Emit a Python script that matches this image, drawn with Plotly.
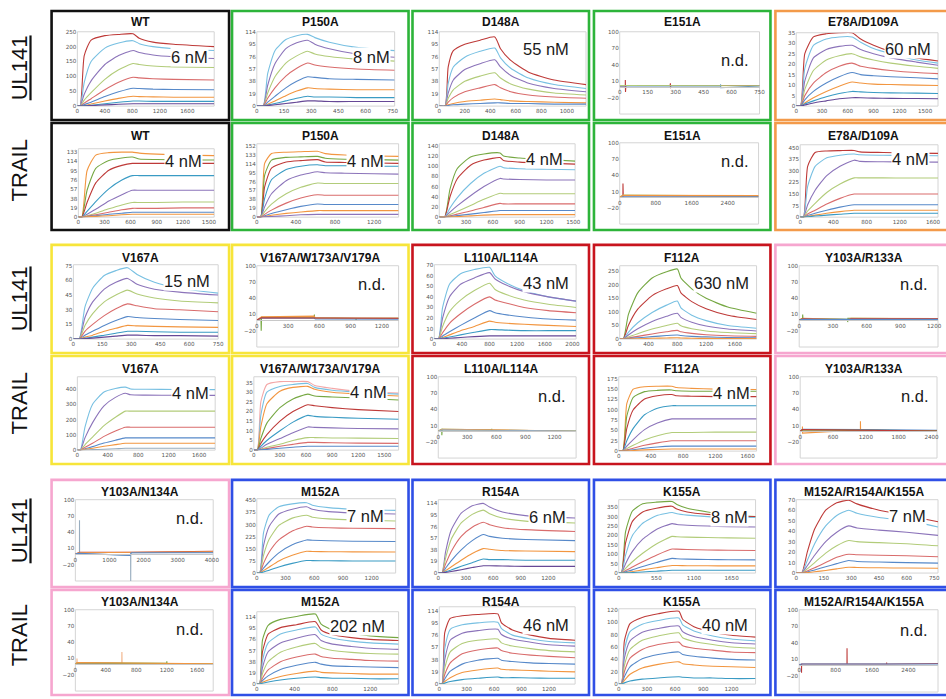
import plotly.graph_objects as go

W, H = 946, 699

# ====================== DATA ======================
ROW_LABELS = ["UL141", "TRAIL", "UL141", "TRAIL", "UL141", "TRAIL"]
TITLES = [
    ["WT", "P150A", "D148A", "E151A", "E78A/D109A"],
    ["WT", "P150A", "D148A", "E151A", "E78A/D109A"],
    ["V167A", "V167A/W173A/V179A", "L110A/L114A", "F112A", "Y103A/R133A"],
    ["V167A", "V167A/W173A/V179A", "L110A/L114A", "F112A", "Y103A/R133A"],
    ["Y103A/N134A", "M152A", "R154A", "K155A", "M152A/R154A/K155A"],
    ["Y103A/N134A", "M152A", "R154A", "K155A", "M152A/R154A/K155A"],
]
KD_LABELS = [
    ["6 nM", "8 nM", "55 nM", "n.d.", "60 nM"],
    ["4 nM", "4 nM", "4 nM", "n.d.", "4 nM"],
    ["15 nM", "n.d.", "43 nM", "630 nM", "n.d."],
    ["4 nM", "4 nM", "n.d.", "4 nM", "n.d."],
    ["n.d.", "7 nM", "6 nM", "8 nM", "7 nM"],
    ["n.d.", "202 nM", "46 nM", "40 nM", "n.d."],
]
ND_YTICKS = [-20, 10, 40, 70, 100]

# ---- Row 1 : UL141 ----
UL141_WT_T = [0, 40, 100, 200, 400, 600, 810, 900, 1100, 1400, 1990]
UL141_WT_Y = [
    [0, 0, 170, 222, 237, 241, 243, 228, 215, 208, 200],
    [0, 0, 80, 150, 195, 212, 220, 210, 200, 193, 187],
    [0, 0, 40, 85, 140, 170, 187, 180, 172, 166, 160],
    [0, 0, 20, 45, 90, 122, 143, 140, 135, 132, 130],
    [0, 0, 10, 25, 55, 80, 97, 95, 92, 90, 88],
    [0, 0, 5, 13, 32, 48, 60, 59, 57, 56, 55],
    [0, 0, 2, 7, 17, 26, 33, 32, 31, 30, 30],
    [0, 0, 1, 3, 8, 13, 17, 17, 16, 16, 16],
    [0, 0, 0.5, 1.5, 4, 6, 8, 8, 8, 8, 8],
]
UL141_P150A_T = [0, 35, 60, 100, 160, 220, 280, 320, 400, 550, 760]
UL141_P150A_Y = [
    [0, 0, 50, 85, 102, 108, 110, 105, 98, 90, 85],
    [0, 0, 32, 65, 88, 97, 101, 95, 88, 80, 75],
    [0, 0, 20, 45, 66, 77, 84, 80, 76, 72, 69],
    [0, 0, 12, 28, 46, 58, 66, 63, 60, 57, 55],
    [0, 0, 6, 15, 28, 38, 45, 44, 42, 41, 40],
    [0, 0, 3, 8, 16, 23, 28, 27, 26, 25, 25],
    [0, 0, 1.5, 4, 8, 12, 15, 14, 14, 13, 13],
    [0, 0, 1, 2, 4, 6, 8, 8, 7, 7, 7],
]
UL141_D148A_T = [0, 45, 70, 110, 200, 320, 435, 480, 560, 700, 900, 1150]
UL141_D148A_Y = [
    [0, 0, 60, 85, 95, 101, 106, 88, 70, 52, 40, 33],
    [0, 0, 35, 60, 75, 84, 89, 74, 58, 43, 33, 27],
    [0, 0, 20, 40, 56, 65, 71, 60, 47, 35, 27, 22],
    [0, 0, 12, 25, 38, 46, 51, 43, 34, 26, 20, 17],
    [0, 0, 6, 13, 22, 28, 33, 28, 22, 17, 14, 12],
    [0, 0, 2, 4, 7, 9, 11, 10, 8, 7, 6, 5],
    [0, 0, 1, 2, 3, 4, 5, 5, 4, 4, 3, 3],
]
UL141_E151A_ND = [
    ([0, 28, 30, 30, 31, 33, 270, 272, 272, 274, 750], [1, 1, 1, 12, -10, 2, 2, 6, -3, 2, 2]),
    ([0, 33, 540, 541, 542, 750], [1, 1, 1, 4, -2, 1]),
    ([0, 33, 750], [2, 2, 1.5]),
]
UL141_E78A_T = [0, 50, 100, 200, 350, 500, 650, 750, 900, 1100, 1400, 1650]
UL141_E78A_Y = [
    [0, 0, 25, 33, 34.5, 35, 35, 32, 29, 26, 23, 21.5],
    [0, 0, 18, 29, 32, 33, 33, 30.5, 27.5, 25, 22, 20.5],
    [0, 0, 12, 23, 27, 28.5, 29, 27, 25, 23, 21, 19.5],
    [0, 0, 8, 17, 22, 24, 25, 23.5, 22, 20.5, 19, 18],
    [0, 0, 5, 11, 16, 19, 20.5, 19, 18, 17, 16, 15.5],
    [0, 0, 3, 7, 11, 14, 16, 15, 14.5, 14, 13.5, 13],
    [0, 0, 1.5, 4, 7, 9.5, 11.5, 11, 10.5, 10.3, 10, 9.8],
    [0, 0, 1, 2.5, 4.5, 6, 7, 6.8, 6.5, 6.3, 6.2, 6],
    [0, 0, 0.5, 1.5, 2.5, 3.5, 4, 4, 3.8, 3.7, 3.6, 3.5],
]

# ---- Row 2 : TRAIL ----
TRAIL_WT_T = [0, 40, 100, 200, 350, 500, 620, 700, 900, 1200, 1560]
TRAIL_WT_Y = [
    [0, 0, 95, 127, 132, 133, 133, 131, 129, 127, 126],
    [0, 0, 55, 100, 116, 121, 123, 119, 118, 117, 117],
    [0, 0, 30, 70, 96, 106, 110, 110, 110, 110, 110],
    [0, 0, 12, 32, 58, 76, 85, 85, 85, 85, 85],
    [0, 0, 6, 16, 33, 46, 55, 55, 55, 55, 55],
    [0, 0, 3, 8, 17, 25, 30, 30, 30, 31, 31],
    [0, 0, 2, 5, 10, 15, 18, 18, 18, 19, 19],
    [0, 0, 1, 3, 6, 8, 10, 10, 10, 10, 10],
    [0, 0, 0.5, 1.5, 3, 5, 6, 6, 6, 6, 6],
]
TRAIL_P150A_T = [0, 40, 80, 150, 300, 450, 620, 700, 900, 1200, 1450]
TRAIL_P150A_Y = [
    [0, 0, 115, 136, 139, 140, 141, 136, 133, 131, 130],
    [0, 0, 90, 122, 128, 129, 130, 126, 124, 123, 122],
    [0, 0, 65, 105, 118, 121, 123, 118, 117, 116, 115],
    [0, 0, 40, 80, 102, 109, 112, 110, 110, 109, 109],
    [0, 0, 22, 50, 78, 90, 97, 95, 94, 93, 92],
    [0, 0, 12, 28, 50, 64, 73, 72, 72, 72, 72],
    [0, 0, 6, 15, 30, 41, 48, 47, 47, 47, 47],
    [0, 0, 3, 8, 16, 23, 28, 27, 27, 27, 27],
    [0, 0, 1.5, 4, 8, 11, 14, 14, 14, 14, 14],
    [0, 0, 0.5, 1.5, 3, 5, 6, 6, 6, 6, 6],
]
TRAIL_D148A_T = [0, 60, 120, 200, 350, 500, 680, 720, 900, 1200, 1520]
TRAIL_D148A_Y = [
    [0, 0, 55, 95, 118, 124, 126, 120, 116, 113, 110],
    [0, 0, 40, 75, 102, 112, 117, 111, 108, 106, 104],
    [0, 0, 18, 38, 66, 86, 100, 97, 95, 94, 93],
    [0, 0, 10, 22, 42, 60, 76, 75, 74, 73, 73],
    [0, 0, 5, 11, 23, 35, 47, 46, 46, 46, 46],
    [0, 0, 2.5, 6, 12, 19, 27, 26, 26, 26, 26],
    [0, 0, 1, 3, 6, 9, 13, 13, 13, 13, 13],
    [0, 0, 0.5, 1, 2.5, 4, 5, 5, 5, 5, 5],
]
TRAIL_E151A_ND = [
    ([0, 70, 72, 78, 800, 1600, 3085], [0, 0, 25, 3, 2.5, 2, 1.5]),
    ([0, 80, 1600, 3085], [0, 3.5, 2.5, 2]),
    ([0, 80, 1600, 3085], [0, 2, 1.5, 1]),
    ([0, 80, 3085], [0, 3, 2.5]),
]
TRAIL_E78A_T = [0, 40, 90, 180, 320, 480, 650, 720, 1000, 1300, 1660]
TRAIL_E78A_Y = [
    [0, 0, 330, 420, 430, 432, 433, 424, 420, 416, 414],
    [0, 0, 200, 330, 385, 402, 410, 405, 402, 400, 399],
    [0, 0, 80, 175, 270, 330, 370, 362, 360, 358, 357],
    [0, 0, 40, 90, 160, 215, 255, 255, 255, 254, 254],
    [0, 0, 20, 45, 85, 122, 150, 150, 150, 150, 150],
    [0, 0, 10, 25, 45, 65, 80, 80, 80, 80, 80],
    [0, 0, 6, 13, 25, 36, 45, 45, 45, 45, 45],
    [0, 0, 3, 7, 13, 19, 25, 25, 25, 25, 25],
]

# ---- Row 3 : UL141 ----
UL141_V167A_T = [0, 30, 60, 100, 160, 220, 280, 330, 420, 550, 750]
UL141_V167A_Y = [
    [0, 0, 33, 52, 65, 70, 73, 66, 58, 52, 47],
    [0, 0, 22, 38, 51, 58, 62, 56, 51, 48, 45],
    [0, 0, 14, 26, 38, 45, 50, 46, 42, 39, 37],
    [0, 0, 8, 15, 24, 31, 36, 34, 31, 30, 28],
    [0, 0, 4, 8, 14, 19, 23, 22, 21, 20, 19],
    [0, 0, 2, 4, 8, 11, 14, 13.5, 13, 12.5, 12],
    [0, 0, 1, 2, 4, 6, 8, 8, 7.5, 7, 7],
    [0, 0, 0.5, 1, 2, 3, 4, 4, 3.5, 3.5, 3],
]
UL141_VWV_ND = [
    ([0, 40, 42, 45, 550, 552, 554, 950, 952, 954, 1360], [0, 0, -20, 5, 5, 10, 4, 3, -2, 3, 3]),
    ([0, 45, 550, 560, 1360], [0, 6, 7, 3, 3]),
    ([0, 45, 550, 560, 1360], [0, 3, 3, 2, 1.5]),
    ([0, 45, 1360], [0, 4, 3]),
]
UL141_L110A_T = [0, 60, 120, 220, 380, 580, 800, 880, 1050, 1300, 1650, 2053]
UL141_L110A_Y = [
    [0, 0, 30, 52, 62, 66, 68, 60, 53, 46, 40, 36],
    [0, 0, 20, 40, 52, 58, 63, 57, 51, 45, 40, 36],
    [0, 0, 12, 26, 37, 46, 53, 47, 42, 37, 33, 30],
    [0, 0, 6, 15, 24, 33, 40, 37, 34, 30, 27, 25],
    [0, 0, 3, 7, 13, 20, 27, 25, 23, 21, 19, 18],
    [0, 0, 1.5, 4, 8, 12, 17, 16, 15, 14, 13, 12],
    [0, 0, 1, 2, 4, 6.5, 9, 9, 8.5, 8, 8, 8],
    [0, 0, 0.3, 0.8, 1.5, 2.3, 3, 3, 3, 3, 3, 3],
]
UL141_F112A_T = [0, 50, 120, 250, 450, 650, 800, 850, 1000, 1200, 1500, 1900]
UL141_F112A_Y = [
    [0, 0, 90, 170, 225, 248, 258, 225, 185, 150, 118, 95],
    [0, 0, 50, 110, 160, 185, 197, 170, 138, 112, 88, 72],
    [0, 0, 25, 60, 98, 125, 140, 115, 88, 68, 50, 40],
    [0, 0, 15, 38, 65, 84, 95, 80, 62, 48, 37, 30],
    [0, 0, 8, 20, 37, 50, 58, 49, 38, 30, 24, 20],
    [0, 0, 4, 10, 19, 27, 32, 27, 21, 16, 12, 10],
    [0, 0, 2, 5, 9, 13, 15, 13, 10, 8, 6, 5],
    [0, 0, 0.5, 1.5, 3, 4, 5, 4, 3, 2.5, 2, 2],
]
UL141_Y103R133_ND = [
    ([0, 30, 31, 33, 430, 431, 433, 1234], [0, 3, 10, 3, 1, -4, 3, 2]),
    ([0, 33, 300, 430, 460, 1234], [0, 3, 1.5, 0.5, 3, 2.5]),
    ([0, 33, 430, 460, 1234], [0, 2, 0, 2, 2]),
    ([0, 33, 1234], [0, 1, 1]),
]

# ---- Row 4 : TRAIL ----
TRAIL_V167A_T = [0, 40, 100, 200, 350, 500, 630, 700, 900, 1300, 1810]
TRAIL_V167A_Y = [
    [0, 0, 150, 300, 380, 403, 412, 400, 398, 397, 396],
    [0, 0, 80, 180, 290, 345, 372, 362, 360, 359, 358],
    [0, 0, 35, 85, 160, 215, 255, 255, 255, 255, 255],
    [0, 0, 18, 45, 90, 125, 150, 150, 150, 150, 150],
    [0, 0, 9, 23, 46, 65, 80, 80, 80, 80, 80],
    [0, 0, 5, 12, 25, 36, 45, 45, 45, 45, 45],
    [0, 0, 1, 3, 6, 9, 12, 12, 12, 12, 12],
]
TRAIL_VWV_T = [0, 40, 80, 150, 300, 450, 620, 700, 900, 1200, 1665]
TRAIL_VWV_Y = [
    [0, 0, 25, 34, 35.5, 35.5, 35.5, 33.5, 32, 30.5, 29.5],
    [0, 0, 18, 30, 33, 34, 34.5, 32.5, 31, 30, 29],
    [0, 0, 12, 24, 30.5, 32.5, 33, 31.5, 30, 29, 28],
    [0, 0, 6, 14, 22, 26.5, 29, 28, 27.5, 27, 26],
    [0, 0, 3.5, 8, 15, 20, 23.5, 23, 22, 21, 20],
    [0, 0, 2, 5, 10, 14.5, 18, 17.5, 17, 16.5, 16],
    [0, 0, 1, 3, 6, 9, 12, 11.8, 11.5, 11.2, 11],
    [0, 0, 0.5, 1.5, 3, 5, 6.5, 6.5, 6.3, 6.2, 6],
    [0, 0, 0.3, 0.8, 2, 3, 4, 4, 3.8, 3.6, 3.5],
    [0, 0, 0.2, 0.4, 1, 1.5, 2, 2, 2, 2, 2],
]
TRAIL_L110A_ND = [
    ([0, 35, 37, 40, 550, 552, 554, 1423], [0, 3, -8, 3, 2, 4, 1.5, 0]),
    ([0, 40, 600, 1423], [0, 3, 2, -0.5]),
    ([0, 40, 1423], [0, 2, 0]),
]
TRAIL_F112A_T = [0, 50, 100, 180, 320, 480, 660, 720, 900, 1200, 1711]
TRAIL_F112A_Y = [
    [0, 0, 115, 150, 156, 157, 157, 154, 152, 150, 149],
    [0, 0, 85, 130, 144, 147, 148, 146, 145, 145, 145],
    [0, 0, 55, 100, 126, 134, 137, 134, 133, 132, 132],
    [0, 0, 25, 55, 88, 104, 110, 110, 110, 110, 110],
    [0, 0, 12, 28, 52, 68, 78, 78, 78, 78, 78],
    [0, 0, 6, 14, 27, 37, 45, 45, 45, 46, 46],
    [0, 0, 3, 7, 14, 20, 25, 25, 25, 25, 25],
    [0, 0, 1.5, 3.5, 7, 10, 12, 12, 12, 12, 12],
    [0, 0, 0.5, 1.5, 3, 4, 5, 5, 5, 5, 5],
]
TRAIL_Y103R133_ND = [
    ([0, 40, 41, 43, 1100, 1101, 1103, 2500], [0, 3, 8, -4, 2, 18, 2, 0]),
    ([0, 45, 1200, 2500], [0, 3, 2.5, 1]),
    ([0, 45, 2500], [0, 2, 0.5]),
    ([0, 45, 2500], [0, 2.5, 0]),
]

# ---- Row 5 : UL141 ----
UL141_Y103N134_ND = [
    ([0, 120, 121, 123, 1000, 1620, 1622, 1625, 4040], [0, 0, 62, 0, -1, -3, -55, 2, 3]),
    ([0, 130, 1000, 1640, 4040], [0, 3, 3, 3, 5]),
    ([0, 130, 2000, 4040], [0, 2, 3, 4]),
    ([0, 130, 1600, 1640, 4040], [0, 1, -3, 2, 2]),
]
UL141_M152A_T = [0, 30, 70, 130, 230, 370, 520, 580, 750, 1000, 1450]
UL141_M152A_Y = [
    [0, 0, 250, 360, 410, 428, 435, 420, 405, 395, 388],
    [0, 0, 170, 290, 365, 395, 410, 395, 380, 372, 365],
    [0, 0, 110, 210, 295, 340, 358, 345, 335, 328, 322],
    [0, 0, 60, 130, 205, 260, 290, 285, 280, 277, 275],
    [0, 0, 30, 70, 125, 175, 205, 203, 200, 197, 195],
    [0, 0, 15, 38, 75, 110, 135, 133, 132, 131, 130],
    [0, 0, 7, 18, 38, 60, 78, 77, 76, 75, 75],
]
UL141_R154A_T = [0, 40, 80, 140, 250, 370, 490, 560, 700, 950, 1492]
UL141_R154A_Y = [
    [0, 0, 35, 70, 98, 110, 114, 108, 100, 94, 90],
    [0, 0, 25, 55, 82, 96, 103, 97, 90, 85, 82],
    [0, 0, 15, 35, 60, 75, 83, 79, 74, 71, 68],
    [0, 0, 8, 20, 38, 53, 63, 60, 57, 55, 53],
    [0, 0, 4, 10, 21, 32, 40, 39, 37, 36, 35],
    [0, 0, 2, 5, 11, 17, 23, 22, 22, 21, 21],
    [0, 0, 1, 2.5, 5.5, 9, 12, 12, 11.5, 11, 11],
]
UL141_K155A_T = [0, 40, 100, 200, 350, 550, 780, 850, 1000, 1300, 1600, 2000]
UL141_K155A_Y = [
    [0, 0, 220, 330, 368, 377, 380, 365, 345, 325, 310, 300],
    [0, 0, 160, 275, 325, 345, 355, 340, 325, 312, 305, 300],
    [0, 0, 95, 200, 265, 305, 322, 315, 308, 300, 297, 295],
    [0, 0, 50, 115, 180, 232, 263, 258, 254, 250, 247, 245],
    [0, 0, 25, 60, 105, 155, 195, 193, 191, 189, 187, 185],
    [0, 0, 13, 32, 60, 95, 128, 127, 125, 123, 121, 120],
    [0, 0, 7, 17, 35, 56, 78, 76, 74, 72, 71, 70],
    [0, 0, 3, 8, 17, 28, 40, 40, 39, 39, 38, 38],
    [0, 0, 1, 3, 6, 10, 15, 15, 15, 15, 15, 15],
]
UL141_MRK_T = [0, 30, 60, 100, 160, 220, 285, 330, 450, 600, 770]
UL141_MRK_Y = [
    [0, 0, 20, 42, 60, 67, 69.5, 66, 60, 55, 49],
    [0, 0, 12, 28, 45, 55, 60, 57, 53, 50, 44],
    [0, 0, 7, 17, 30, 39, 45, 43, 41, 39, 36],
    [0, 0, 4, 10, 19, 26, 31, 30, 29, 28, 26],
    [0, 0, 2, 5, 10, 15, 18, 17.5, 17, 16.5, 15.5],
    [0, 0, 1, 3, 6, 9, 12, 11, 10.5, 10, 9.5],
    [0, 0, 0.5, 1.2, 2.5, 4, 5.5, 5.3, 5, 4.8, 4.6],
]

# ---- Row 6 : TRAIL ----
TRAIL_Y103N134_ND = [
    ([0, 20, 21, 23, 610, 611, 613, 1810], [0, 2, 10, 2, 1, 22, 1, 0]),
    ([0, 25, 1810], [0, 1, -1]),
    ([0, 25, 1200, 1201, 1203, 1810], [0, 2, 1, 5, 1, 0]),
    ([0, 25, 1810], [0, 2.5, 0.5]),
]
TRAIL_M152A_T = [0, 30, 60, 120, 250, 420, 620, 680, 800, 1000, 1200, 1500]
TRAIL_M152A_Y = [
    [0, 0, 75, 100, 110, 115, 119, 102, 92, 86, 82, 79],
    [0, 0, 55, 85, 96, 101, 106, 92, 84, 79, 76, 74],
    [0, 0, 40, 70, 85, 92, 97, 85, 78, 73, 70, 68],
    [0, 0, 28, 55, 70, 78, 84, 74, 68, 64, 61, 59],
    [0, 0, 18, 38, 54, 63, 69, 62, 57, 54, 52, 51],
    [0, 0, 10, 24, 38, 46, 51, 47, 44, 42, 40, 39],
    [0, 0, 6, 14, 25, 32, 37, 34, 31, 30, 29, 28],
    [0, 0, 3, 7, 13, 18, 22, 20, 19, 18, 17, 17],
    [0, 0, 1.5, 3.5, 7, 10, 12, 11, 10, 10, 9, 9],
]
TRAIL_R154A_T = [0, 30, 60, 120, 250, 420, 640, 680, 800, 1000, 1200, 1485]
TRAIL_R154A_Y = [
    [0, 0, 80, 102, 106, 108, 109, 95, 84, 76, 71, 68],
    [0, 0, 55, 85, 92, 95, 96, 86, 76, 70, 66, 64],
    [0, 0, 38, 68, 79, 83, 85, 77, 70, 65, 61, 59],
    [0, 0, 25, 50, 63, 68, 70, 64, 59, 55, 52, 50],
    [0, 0, 15, 33, 47, 53, 56, 52, 48, 45, 43, 41],
    [0, 0, 8, 20, 31, 37, 40, 37, 35, 33, 32, 31],
    [0, 0, 4, 10, 18, 22, 25, 23, 22, 21, 20, 19],
    [0, 0, 1.5, 4, 7, 9, 11, 10, 10, 9.5, 9, 9],
]
TRAIL_K155A_T = [0, 30, 60, 120, 250, 420, 640, 680, 800, 1000, 1200, 1456]
TRAIL_K155A_Y = [
    [0, 0, 70, 98, 108, 114, 118, 105, 93, 84, 79, 76],
    [0, 0, 55, 85, 97, 103, 107, 96, 86, 78, 73, 70],
    [0, 0, 42, 70, 84, 90, 94, 85, 77, 71, 67, 65],
    [0, 0, 30, 56, 71, 78, 83, 75, 69, 64, 60, 58],
    [0, 0, 20, 42, 56, 64, 68, 62, 58, 55, 52, 51],
    [0, 0, 12, 28, 41, 48, 52, 48, 45, 42, 40, 39],
    [0, 0, 6, 16, 26, 32, 36, 33, 31, 29, 28, 27],
    [0, 0, 2, 5, 8, 10, 12, 11, 10, 10, 9, 9],
]
TRAIL_MRK_ND = [
    ([0, 50, 51, 53, 1050, 1051, 1053, 1920, 1921, 1923, 3050], [0, 0, -15, 1, 1, 30, 1, 1, 4, 1, 2]),
    ([0, 55, 3050], [0, 1, 1]),
]

# ====================== STYLE ======================
DR = '#BE3A38'; LB = '#78C0E2'; PU = '#8C74BA'; GR = '#B2CC7A'; RD = '#D96C6C'
BL = '#5789C9'; OR = '#F29640'; TE = '#3A9BC4'; DP = '#664896'; DG = '#76A843'
GY = '#98ADBF'; PK = '#F4A7A7'; PE = '#F2B48A'

C_BLACK = '#111111'; C_GREEN = '#2DB43A'; C_ORANGE = '#F39A4A'; C_YELLOW = '#F7E53A'
C_RED = '#C8141E'; C_PINK = '#F6A6CF'; C_BLUE = '#2F4FE6'

COL_X = [(50, 229), (232, 410), (414, 592), (597, 775), (780, 958)]
ROW_Y = [(8, 118), (121, 229), (244, 353), (356, 465), (481, 589), (592, 698)]
BORDER_COLORS = [
    [C_BLACK, C_GREEN, C_GREEN, C_GREEN, C_ORANGE],
    [C_BLACK, C_GREEN, C_GREEN, C_GREEN, C_ORANGE],
    [C_YELLOW, C_YELLOW, C_RED, C_RED, C_PINK],
    [C_YELLOW, C_YELLOW, C_RED, C_RED, C_PINK],
    [C_PINK, C_BLUE, C_BLUE, C_BLUE, C_BLUE],
    [C_PINK, C_BLUE, C_BLUE, C_BLUE, C_BLUE],
]
TITLE_Y = [19, 134, 257, 369, 493, 604]
ROW_LABEL_Y = [65, 169, 298, 404, 532, 638]

# per panel: data, colors, plot box (x0,x1,ytop,ybot), x range, y range, dx, dy, kd position
P = {}
P[(0, 0)] = dict(T=UL141_WT_T, Y=UL141_WT_Y, c=[DR, LB, PU, GR, RD, BL, OR, TE, DP], box=(76, 214, 29, 104), xr=1990, yr=(0, 250), dx=400, dy=50, kd=(189, 54))
P[(0, 1)] = dict(T=UL141_P150A_T, Y=UL141_P150A_Y, c=[LB, PU, GR, RD, BL, OR, TE, DP], box=(257, 396, 29, 104), xr=760, yr=(0, 114), dx=150, dy=19, kd=(373, 54))
P[(0, 2)] = dict(T=UL141_D148A_T, Y=UL141_D148A_Y, c=[DR, LB, PU, GR, RD, OR, BL], box=(441, 589, 29, 104), xr=1150, yr=(0, 114), dx=200, dy=19, kd=(549, 46))
P[(0, 3)] = dict(ND=UL141_E151A_ND, c=[DR, BL, GR], box=(623, 764, 29, 112), xr=750, dx=150, kd=(739, 57))
P[(0, 4)] = dict(T=UL141_E78A_T, Y=UL141_E78A_Y, c=[DR, LB, PU, GR, RD, BL, OR, TE, DP], box=(801, 944, 30, 104), xr=1650, yr=(0, 35), dx=300, dy=5, kd=(914, 46))
P[(1, 0)] = dict(T=TRAIL_WT_T, Y=TRAIL_WT_Y, c=[OR, DG, DR, TE, PU, GR, RD, BL, OR], box=(77, 214, 147, 216), xr=1560, yr=(0, 140), dx=300, dy=19, kd=(183, 159))
P[(1, 1)] = dict(T=TRAIL_P150A_T, Y=TRAIL_P150A_Y, c=[OR, DG, DR, TE, PU, GR, RD, BL, OR, PU], box=(257, 400, 142, 216), xr=1450, yr=(0, 157), dx=400, dy=19, kd=(367, 159))
P[(1, 2)] = dict(T=TRAIL_D148A_T, Y=TRAIL_D148A_Y, c=[DG, DR, LB, PU, GR, RD, BL, OR], box=(441, 578, 142, 216), xr=1520, yr=(0, 144), dx=300, dy=20, kd=(547, 157))
P[(1, 3)] = dict(ND=TRAIL_E151A_ND, c=[DR, GR, BL, OR], box=(623, 763, 141, 223), xr=3085, dx=800, kd=(739, 159))
P[(1, 4)] = dict(T=TRAIL_E78A_T, Y=TRAIL_E78A_Y, c=[DR, LB, PU, GR, RD, BL, OR, TE], box=(805, 944, 143, 216), xr=1660, yr=(0, 470), dx=400, dy=75, kd=(916, 157))
P[(2, 0)] = dict(T=UL141_V167A_T, Y=UL141_V167A_Y, c=[LB, PU, GR, RD, BL, OR, TE, DP], box=(72, 218, 264, 339), xr=750, yr=(0, 76), dx=150, dy=15, kd=(187, 280))
P[(2, 1)] = dict(ND=UL141_VWV_ND, c=[DG, OR, BL, DR], box=(257, 400, 265, 347), xr=1360, dx=300, kd=(373, 283))
P[(2, 2)] = dict(T=UL141_L110A_T, Y=UL141_L110A_Y, c=[LB, PU, GR, RD, BL, OR, TE, DP], box=(436, 579, 264, 339), xr=2053, yr=(0, 70.5), dx=400, dy=10, kd=(549, 282))
P[(2, 3)] = dict(T=UL141_F112A_T, Y=UL141_F112A_Y, c=[DG, DR, LB, PU, GR, RD, BL, OR], box=(623, 761, 265, 339), xr=1900, yr=(0, 270), dx=400, dy=50, kd=(726, 282))
P[(2, 4)] = dict(ND=UL141_Y103R133_ND, c=[DG, OR, DR, BL], box=(804, 944, 265, 347), xr=1234, dx=300, kd=(920, 283))
P[(3, 0)] = dict(T=TRAIL_V167A_T, Y=TRAIL_V167A_Y, c=[LB, PU, GR, RD, BL, OR, GY], box=(76, 215, 377, 451), xr=1810, yr=(0, 480), dx=400, dy=100, kd=(190, 393))
P[(3, 1)] = dict(T=TRAIL_VWV_T, Y=TRAIL_VWV_Y, c=[PK, LB, OR, DG, DR, TE, PU, GR, RD, BL], box=(254, 400, 377, 451), xr=1665, yr=(0, 38), dx=300, dy=5, kd=(370, 392))
P[(3, 2)] = dict(ND=TRAIL_L110A_ND, c=[DG, OR, GY], box=(440, 579, 377, 459), xr=1423, dx=300, kd=(555, 396))
P[(3, 3)] = dict(T=TRAIL_F112A_T, Y=TRAIL_F112A_Y, c=[OR, DG, DR, TE, PU, GR, RD, BL, OR], box=(622, 761, 377, 452), xr=1711, yr=(0, 180), dx=400, dy=25, kd=(736, 393))
P[(3, 4)] = dict(ND=TRAIL_Y103R133_ND, c=[OR, BL, DG, DR], box=(805, 943, 377, 459), xr=2500, dx=600, kd=(921, 396))
P[(4, 0)] = dict(ND=UL141_Y103N134_ND, c=[GY, DR, OR, BL], box=(74, 213, 501, 583), xr=4040, dx=1000, kd=(190, 519))
P[(4, 1)] = dict(T=UL141_M152A_T, Y=UL141_M152A_Y, c=[LB, PU, GR, RD, BL, OR, TE], box=(257, 397, 500, 575), xr=1450, yr=(0, 460), dx=300, dy=75, kd=(367, 517))
P[(4, 2)] = dict(T=UL141_R154A_T, Y=UL141_R154A_Y, c=[PU, GR, RD, BL, OR, TE, DP], box=(440, 578, 501, 575), xr=1492, yr=(0, 120), dx=300, dy=19, kd=(550, 518))
P[(4, 3)] = dict(T=UL141_K155A_T, Y=UL141_K155A_Y, c=[DG, DR, LB, PU, GR, RD, BL, OR, TE], box=(622, 760, 501, 575), xr=2000, yr=(0, 390), dx=550, dy=50, kd=(734, 518))
P[(4, 4)] = dict(T=UL141_MRK_T, Y=UL141_MRK_Y, c=[DR, LB, PU, GR, RD, BL, OR], box=(801, 944, 501, 575), xr=770, yr=(0, 70), dx=150, dy=10, kd=(913, 517))
P[(5, 0)] = dict(ND=TRAIL_Y103N134_ND, c=[PE, BL, DG, OR], box=(74, 213, 612, 694), xr=1810, dx=400, kd=(190, 631))
P[(5, 1)] = dict(T=TRAIL_M152A_T, Y=TRAIL_M152A_Y, c=[DG, DR, LB, PU, GR, RD, BL, OR, TE], box=(257, 400, 614, 687), xr=1500, yr=(0, 123), dx=400, dy=19, kd=(359, 628))
P[(5, 2)] = dict(T=TRAIL_R154A_T, Y=TRAIL_R154A_Y, c=[DR, LB, PU, GR, RD, BL, OR, TE], box=(441, 578, 609, 687), xr=1485, yr=(0, 120), dx=300, dy=19, kd=(549, 627))
P[(5, 3)] = dict(T=TRAIL_K155A_T, Y=TRAIL_K155A_Y, c=[DR, LB, PU, GR, RD, BL, OR, TE], box=(622, 760, 611, 687), xr=1456, yr=(0, 122), dx=300, dy=20, kd=(729, 627))
P[(5, 4)] = dict(ND=TRAIL_MRK_ND, c=[DR, BL], box=(804, 944, 612, 695), xr=3050, dx=800, kd=(920, 632))

TICKFONT = dict(family='DejaVu Sans', size=5.6, color='#555555')
FONT = 'Liberation Sans, Arial, sans-serif'

# ====================== BUILD ======================
fig = go.Figure()
layout = {}
shapes = []
annotations = []


def px_x(x):
    return x / W


def px_y(y):
    return 1 - y / H


idx = 0
for r in range(6):
    for c in range(5):
        idx += 1
        p = P[(r, c)]
        xn = 'x' if idx == 1 else f'x{idx}'
        yn = 'y' if idx == 1 else f'y{idx}'
        xk = 'xaxis' if idx == 1 else f'xaxis{idx}'
        yk = 'yaxis' if idx == 1 else f'yaxis{idx}'
        x0, x1, yt, yb = p['box']
        nd = 'ND' in p
        yr = (-50, 100) if nd else p['yr']
        xa = dict(domain=[px_x(x0), px_x(x1)], range=[0, p['xr']], tick0=0, dtick=p['dx'],
                  showgrid=False, zeroline=False, ticks='', tickfont=TICKFONT, tickangle=0,
                  fixedrange=True)
        ya = dict(domain=[px_y(yb), px_y(yt)], range=list(yr), showgrid=False, zeroline=False,
                  ticks='', tickfont=TICKFONT, anchor=xn, fixedrange=True, showline=False)
        if nd:
            frac = (0 - yr[0]) / (yr[1] - yr[0])
            ypos = yb - frac * (yb - yt)
            xa.update(anchor='free', position=px_y(ypos), showline=True, linecolor='#C8C8C8', linewidth=1)
            ya.update(tickmode='array', tickvals=ND_YTICKS)
        else:
            xa.update(anchor=yn, showline=False)
            ya.update(tick0=0, dtick=p['dy'])
        layout[xk] = xa
        layout[yk] = ya

        # traces
        if nd:
            for (xs, ys), col in zip(p['ND'], p['c']):
                fig.add_trace(go.Scatter(x=xs, y=ys, mode='lines', xaxis=xn, yaxis=yn,
                                         line=dict(color=col, width=1.1), hoverinfo='skip'))
        else:
            for ys, col in zip(p['Y'], p['c']):
                fig.add_trace(go.Scatter(x=p['T'], y=ys, mode='lines', xaxis=xn, yaxis=yn,
                                         line=dict(color=col, width=1.1, shape='spline', smoothing=0.55),
                                         hoverinfo='skip'))

        # plot area frame
        shapes.append(dict(type='rect', xref=f'{xn} domain', yref=f'{yn} domain', x0=0, x1=1, y0=0, y1=1,
                           line=dict(color='#D4D4D4', width=1), layer='below'))
        # panel border
        bx0, bx1 = COL_X[c]
        by0, by1 = ROW_Y[r]
        shapes.append(dict(type='rect', xref='paper', yref='paper', x0=px_x(bx0), x1=px_x(bx1),
                           y0=px_y(by1), y1=px_y(by0), line=dict(color=BORDER_COLORS[r][c], width=2.6)))
        # title
        annotations.append(dict(text='<b>' + TITLES[r][c] + '</b>', xref='paper', yref='paper',
                                x=px_x((bx0 + bx1) / 2), y=px_y(TITLE_Y[r]), xanchor='center', yanchor='middle',
                                showarrow=False, font=dict(family=FONT, size=12, color='#111111')))
        # KD label
        kx, ky = p['kd']
        annotations.append(dict(text=KD_LABELS[r][c], xref='paper', yref='paper', x=px_x(kx), y=px_y(ky),
                                xanchor='center', yanchor='middle', showarrow=False, bgcolor='white',
                                borderpad=0, font=dict(family=FONT, size=16.5, color='#1a1a1a')))

for r in range(6):
    annotations.append(dict(text='<u>' + ROW_LABELS[r] + '</u>' if ROW_LABELS[r] == 'UL141' else ROW_LABELS[r],
                            xref='paper', yref='paper', x=px_x(18), y=px_y(ROW_LABEL_Y[r]),
                            xanchor='center', yanchor='middle', textangle=-90, showarrow=False,
                            font=dict(family=FONT, size=22, color='#111111')))

fig.update_layout(**layout)
fig.update_layout(width=W, height=H, margin=dict(l=0, r=0, t=0, b=0), showlegend=False,
                  paper_bgcolor='white', plot_bgcolor='white', shapes=shapes, annotations=annotations)

fig.write_html("out.html", config={'displayModeBar': False},
               post_script="document.body.style.margin='0';")
